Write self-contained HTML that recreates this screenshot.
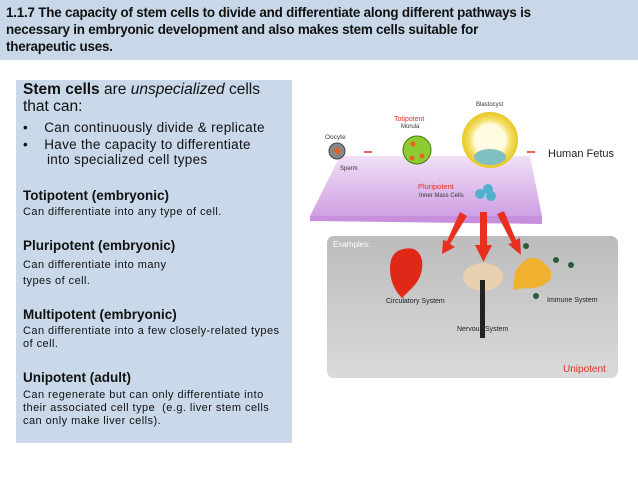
<!DOCTYPE html>
<html><head><style>
body{margin:0;width:638px;height:479px;background:#fff;position:relative;overflow:hidden;font-family:"Liberation Sans",sans-serif}
.hd{position:absolute;left:0;top:0;width:638px;height:60px;background:#c8d8e8;}
.hd div{position:absolute;left:6px;top:4px;font-weight:bold;font-size:13.4px;line-height:17px;color:#111;letter-spacing:-0.2px}
.bx{position:absolute;left:16px;top:80px;width:276px;height:363px;background:#c9d9ea}
.t{position:absolute;left:23px;white-space:nowrap;color:#111;font-family:"Liberation Sans",sans-serif}
.big{font-size:15.5px}.mid{font-size:13.5px;letter-spacing:0.3px}.h{font-size:13.5px;font-weight:bold}.s{font-size:11px;letter-spacing:0.45px}
</style></head><body>
<div class="hd"><div>1.1.7 The capacity of stem cells to divide and differentiate along different pathways is<br>necessary in embryonic development and also makes stem cells suitable for<br>therapeutic uses.</div></div>
<div class="bx"></div>
<div class="t big" style="top:81px"><b>Stem cells</b> are <i>unspecialized</i> cells</div>
<div class="t big" style="top:98px">that can:</div>
<div class="t mid" style="top:120px">•&nbsp;&nbsp;&nbsp;&nbsp;Can continuously divide &amp; replicate</div>
<div class="t mid" style="top:137px">•&nbsp;&nbsp;&nbsp;&nbsp;Have the capacity to differentiate</div>
<div class="t mid" style="top:152px;left:47px">into specialized cell types</div>
<div class="t h" style="top:188px">Totipotent (embryonic)</div>
<div class="t s" style="top:206px">Can differentiate into any type of cell.</div>
<div class="t h" style="top:238px">Pluripotent (embryonic)</div>
<div class="t s" style="top:259px">Can differentiate into many</div>
<div class="t s" style="top:275px">types of cell.</div>
<div class="t h" style="top:307px">Multipotent (embryonic)</div>
<div class="t s" style="top:325px">Can differentiate into a few closely-related types</div>
<div class="t s" style="top:338px">of cell.</div>
<div class="t h" style="top:370px">Unipotent (adult)</div>
<div class="t s" style="top:389px">Can regenerate but can only differentiate into</div>
<div class="t s" style="top:402px">their associated cell type&nbsp; (e.g. liver stem cells</div>
<div class="t s" style="top:415px">can only make liver cells).</div>
<svg style="position:absolute;left:0;top:0" width="638" height="479" font-family="Liberation Sans,sans-serif">
<defs>
<linearGradient id="pp" x1="0" y1="0" x2="0" y2="1"><stop offset="0" stop-color="#f0e0f6"/><stop offset="1" stop-color="#d0a0e4"/></linearGradient>
<linearGradient id="gg" x1="0" y1="0" x2="0" y2="1"><stop offset="0" stop-color="#bcbcbc"/><stop offset="1" stop-color="#dadada"/></linearGradient>
<radialGradient id="bl"><stop offset="0.55" stop-color="#fffbe0"/><stop offset="0.72" stop-color="#f4e070"/><stop offset="1" stop-color="#e8c820"/></radialGradient>
</defs>
<polygon points="340,156 530,156 542,216 310,216" fill="url(#pp)"/>
<polygon points="310,216 542,216 542,224 310,221" fill="#c890dc"/>
<rect x="327" y="236" width="291" height="142" rx="7" fill="url(#gg)"/>
<text x="333" y="247" font-size="8" fill="#fff">Examples:</text>
<text x="325" y="139" font-size="6.5" fill="#333">Oocyte</text>
<circle cx="337" cy="151" r="8" fill="#888" stroke="#444"/><circle cx="337" cy="151" r="3" fill="#e86020"/>
<text x="340" y="170" font-size="6" fill="#333">Sperm</text>
<path d="M364,152h8M404,152h8M527,152h8" stroke="#e03020" stroke-width="1.5"/>
<text x="394" y="121" font-size="7" fill="#e03020">Totipotent</text>
<text x="401" y="128" font-size="6" fill="#333">Morula</text>
<circle cx="417" cy="150" r="14" fill="#8ccc30" stroke="#4a7a10"/>
<circle cx="413" cy="144" r="2.5" fill="#e86020"/><circle cx="422" cy="156" r="2.5" fill="#e86020"/><circle cx="412" cy="158" r="2.5" fill="#e86020"/>
<text x="476" y="106" font-size="6" fill="#333">Blastocyst</text>
<circle cx="490" cy="140" r="28" fill="url(#bl)"/>
<ellipse cx="490" cy="157" rx="16" ry="8" fill="#80c0c0"/>
<text x="548" y="157" font-size="11" fill="#222">Human Fetus</text>
<text x="418" y="189" font-size="7.5" fill="#e03020">Pluripotent</text>
<text x="419" y="197" font-size="6" fill="#333">Inner Mass Cells</text>
<circle cx="480" cy="194" r="5" fill="#50b0d0"/><circle cx="488" cy="189" r="5" fill="#50b0d0"/><circle cx="491" cy="196" r="5" fill="#50b0d0"/>
<g fill="#e83020">
<polygon points="460,212 467,216 450,244 455,247 442,254 443,240 447,241"/>
<polygon points="480,212 487,212 487,245 492,245 483.5,262 475,245 480,245"/>
<polygon points="497,214 504,211 516,240 520,238 521,255 508,244 512,243"/>
</g>
<path d="M400,250 q18,-6 22,10 q2,16 -10,28 l-10,10 q-12,-12 -12,-30 q0,-14 10,-18z" fill="#e02818"/>
<ellipse cx="483" cy="277" rx="20" ry="14" fill="#e8d0b0"/>
<rect x="480" y="280" width="5" height="58" fill="#222"/>
<path d="M515,272 q12,-20 25,-12 q15,10 10,20 q-10,10 -25,8 l-12,2z" fill="#f0b030"/>
<circle cx="556" cy="260" r="3" fill="#2a5a3a"/><circle cx="526" cy="246" r="3" fill="#2a5a3a"/><circle cx="536" cy="296" r="3" fill="#2a5a3a"/><circle cx="571" cy="265" r="3" fill="#2a5a3a"/>
<text x="386" y="303" font-size="7" fill="#222">Circulatory System</text>
<text x="457" y="331" font-size="7" fill="#222">Nervous System</text>
<text x="547" y="302" font-size="7" fill="#222">Immune System</text>
<text x="563" y="372" font-size="10" fill="#e03020">Unipotent</text>
</svg>
</body></html>
